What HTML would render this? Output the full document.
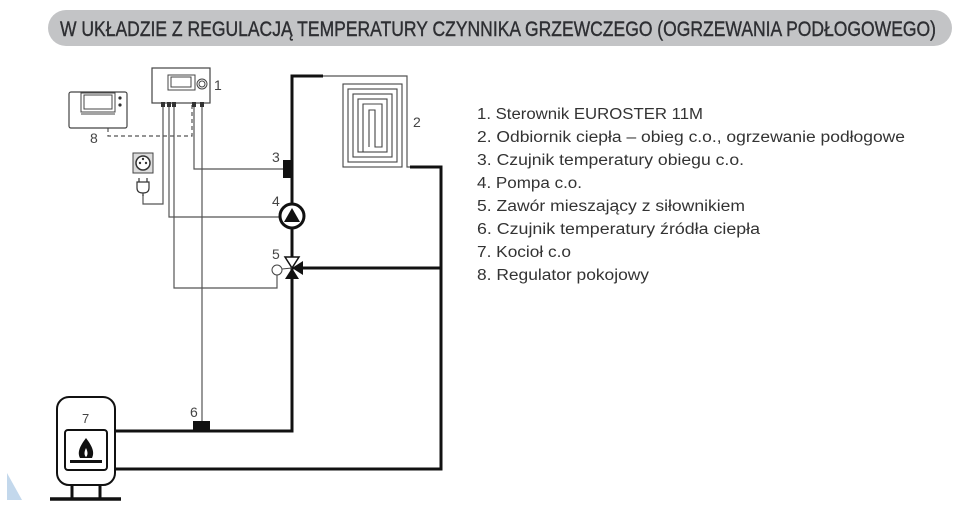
<!DOCTYPE html>
<html><head><meta charset="utf-8"><style>
html,body{margin:0;padding:0;background:#fff;width:960px;height:510px;overflow:hidden}
svg{display:block}
</style></head><body>
<svg width="960" height="510" viewBox="0 0 960 510" xmlns="http://www.w3.org/2000/svg" font-family="Liberation Sans, sans-serif">
<path d="M7 473 L22 500 L7 500 Z" fill="#c3d8ec"/>
<rect x="48" y="10" width="904" height="36" rx="18" fill="#c3c4c6"/>
<text x="60" y="36" font-size="21" fill="#2e2f33" stroke="#2e2f33" stroke-width="0.4" textLength="876" lengthAdjust="spacingAndGlyphs">W UKŁADZIE Z REGULACJĄ TEMPERATURY CZYNNIKA GRZEWCZEGO (OGRZEWANIA PODŁOGOWEGO)</text>

<g fill="#333" font-size="15.5">
<text x="477" y="119" textLength="226" lengthAdjust="spacingAndGlyphs">1. Sterownik EUROSTER 11M</text>
<text x="477" y="142" textLength="428" lengthAdjust="spacingAndGlyphs">2. Odbiornik ciepła – obieg c.o., ogrzewanie podłogowe</text>
<text x="477" y="165" textLength="267" lengthAdjust="spacingAndGlyphs">3. Czujnik temperatury obiegu c.o.</text>
<text x="477" y="188" textLength="105" lengthAdjust="spacingAndGlyphs">4. Pompa c.o.</text>
<text x="477" y="211" textLength="268" lengthAdjust="spacingAndGlyphs">5. Zawór mieszający z siłownikiem</text>
<text x="477" y="234" textLength="283" lengthAdjust="spacingAndGlyphs">6. Czujnik temperatury źródła ciepła</text>
<text x="477" y="257" textLength="94" lengthAdjust="spacingAndGlyphs">7. Kocioł c.o</text>
<text x="477" y="280" textLength="172" lengthAdjust="spacingAndGlyphs">8. Regulator pokojowy</text>
</g>

<g fill="none" stroke="#555" stroke-width="1.2">
<path d="M163 103 V204 H143 V195"/>
<path d="M169 103 V217 H279"/>
<path d="M174 103 V288 H277 V275"/>
<path d="M194 103 V169 H283"/>
<path d="M202 103 V421"/>
<path d="M108 128 V136 H192 V103" stroke-dasharray="4 3"/>
<path d="M323 76 H407 V167 H410"/>
</g>
<g fill="none" stroke="#444" stroke-width="1.1">
<rect x="343" y="84" width="59" height="83"/>
<rect x="348" y="89" width="49" height="73"/>
<rect x="353" y="94" width="39" height="63"/>
<rect x="358" y="99" width="29" height="53"/>
<path d="M363 152 V104 H382 V147 H375 V110 H369 V147"/>
</g>
<text x="413" y="127" font-size="14" fill="#444">2</text>

<rect x="152" y="68" width="58" height="35" fill="#fff" stroke="#444" stroke-width="1.2"/>
<rect x="168" y="75" width="27" height="15" fill="#fff" stroke="#444"/>
<rect x="171" y="77" width="20" height="10" fill="#fff" stroke="#444"/>
<circle cx="202" cy="84" r="5" fill="#fff" stroke="#444"/>
<circle cx="202" cy="84" r="3" fill="#fff" stroke="#444"/>
<g fill="#333"><rect x="161" y="102" width="4" height="5"/><rect x="167" y="102" width="4" height="5"/><rect x="172" y="102" width="4" height="5"/><rect x="192" y="102" width="4" height="5"/><rect x="200" y="102" width="4" height="5"/></g>
<text x="214" y="90" font-size="14" fill="#444">1</text>

<rect x="69" y="92" width="58" height="36" rx="2" fill="#fff" stroke="#444" stroke-width="1.2"/>
<rect x="81" y="93" width="34" height="19" fill="#fff" stroke="#444"/>
<rect x="84" y="95" width="28" height="14" fill="#fff" stroke="#444"/>
<line x1="81" y1="114" x2="115" y2="114" stroke="#444"/>
<circle cx="120" cy="98" r="1.6" fill="#333"/><circle cx="120" cy="105" r="1.6" fill="#333"/>
<text x="90" y="143" font-size="14" fill="#444">8</text>

<rect x="133" y="153" width="20" height="20" fill="#ddd" stroke="#444"/>
<circle cx="143" cy="163" r="7" fill="#fff" stroke="#333" stroke-width="1.5"/>
<circle cx="140" cy="163" r="1.2" fill="#333"/><circle cx="146" cy="163" r="1.2" fill="#333"/><circle cx="143" cy="159" r="1.2" fill="#333"/>
<path d="M139 178 V182 M147 178 V182 M137 182 H149 V188 Q149 193 143 193 Q137 193 137 188 Z M143 193 V196" fill="#fff" stroke="#333" stroke-width="1.2"/>

<g fill="none" stroke="#111" stroke-width="3">
<path d="M323 76 H292 V431 H115"/>
<path d="M410 167 H441 V469 H115"/>
<path d="M298 268 H441"/>
</g>
<rect x="283" y="160" width="9" height="18" fill="#111"/>
<text x="272" y="162" font-size="14" fill="#444">3</text>
<circle cx="292" cy="216" r="12" fill="#fff" stroke="#111" stroke-width="3"/>
<path d="M284 222 L292 208 L300 222 Z" fill="#111"/>
<text x="272" y="206" font-size="14" fill="#444">4</text>
<path d="M285 257 L299 257 L292 268 Z" fill="#fff" stroke="#111" stroke-width="1.5"/>
<path d="M285 279 L299 279 L292 268 Z" fill="#111"/>
<path d="M303 261 L303 275 L292 268 Z" fill="#111"/>
<line x1="282" y1="269" x2="292" y2="268" stroke="#444"/>
<circle cx="277" cy="270" r="5" fill="#fff" stroke="#444"/>
<text x="272" y="259" font-size="14" fill="#444">5</text>
<rect x="193" y="421" width="17" height="10" fill="#111"/>
<text x="190" y="417" font-size="14" fill="#444">6</text>

<rect x="57" y="397" width="58" height="88" rx="12" fill="#fff" stroke="#111" stroke-width="2"/>
<rect x="65" y="430" width="42" height="40" rx="3" fill="#fff" stroke="#111" stroke-width="2"/>
<text x="82" y="423" font-size="13" fill="#444">7</text>
<path d="M86 438 C80 446 77 452 80 458 L92 458 C95 452 92 446 86 438 Z M86 448 C84 452 84 455 86 457 C88 455 88 452 86 448 Z" fill="#111" fill-rule="evenodd"/>
<rect x="70" y="460" width="32" height="3" fill="#111"/>
<path d="M72 485 V499 M100 485 V499" stroke="#111" stroke-width="3"/>
<path d="M50 499 H121" stroke="#111" stroke-width="3.5"/>
</svg>
</body></html>
